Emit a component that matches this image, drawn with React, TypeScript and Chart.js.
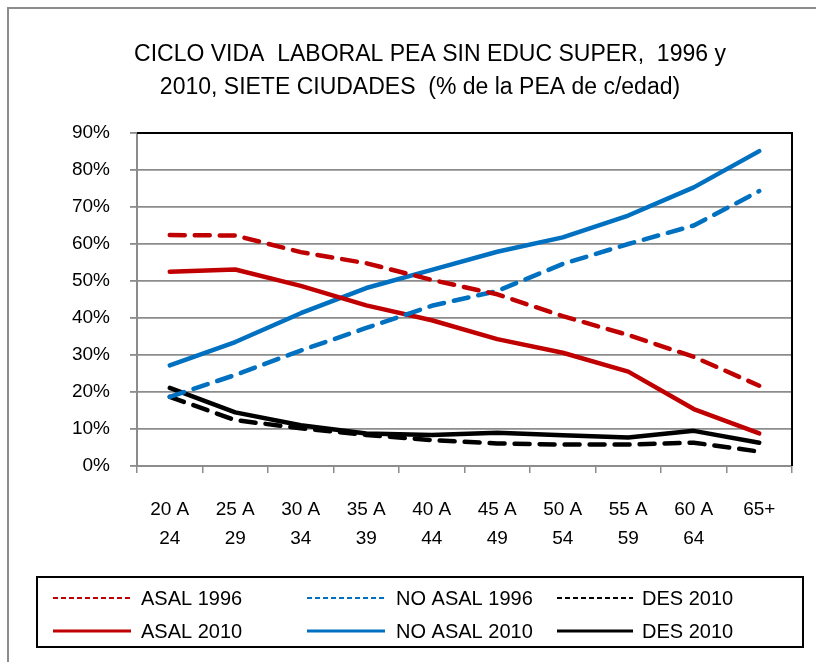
import React, { useEffect, useRef } from "react";
import { Chart, registerables } from "chart.js";

Chart.register(...registerables);

const categories: string[][] = [
  ["20 A", "24"], ["25 A", "29"], ["30 A", "34"], ["35 A", "39"], ["40 A", "44"],
  ["45 A", "49"], ["50 A", "54"], ["55 A", "59"], ["60 A", "64"], ["65+"],
];
const asal1996 = [62.4, 62.3, 57.8, 54.8, 50.3, 46.4, 40.5, 35.4, 29.5, 21.7];
const noAsal1996 = [18.7, 24.6, 31.2, 37.3, 43.3, 47.3, 54.6, 60.0, 65.0, 74.3];
const desDashed = [18.7, 12.4, 10.2, 8.4, 7.0, 6.1, 5.8, 5.8, 6.3, 3.9];
const asal2010 = [52.5, 53.1, 48.7, 43.4, 39.4, 34.3, 30.6, 25.5, 15.4, 8.8];
const noAsal2010 = [27.2, 33.5, 41.3, 48.1, 53.0, 57.9, 61.8, 67.7, 75.3, 85.1];
const desSolid = [21.1, 14.5, 11.0, 8.8, 8.4, 9.0, 8.3, 7.7, 9.5, 6.3];
const seriesLabels = ["ASAL 1996", "NO ASAL 1996", "DES 2010", "ASAL 2010", "NO ASAL 2010", "DES 2010"];
const titleLines = ["CICLO VIDA  LABORAL PEA SIN EDUC SUPER,  1996 y", "2010, SIETE CIUDADES  (% de la PEA de c/edad)"];

const RED = "#C00000";
const BLUE = "#0070C0";
const BLACK = "#000000";
const GRID = "#8c8c8c";
const FONT = "'Liberation Sans', sans-serif";

const decorPlugin = {
  id: "decor",
  afterDraw(chart: any) {
    const ctx = chart.ctx as CanvasRenderingContext2D;
    const area = chart.chartArea;
    ctx.save();
    ctx.strokeStyle = GRID;
    ctx.lineWidth = 2;
    ctx.strokeRect(8, 8, 830, 700);
    ctx.strokeStyle = "#000";
    ctx.lineWidth = 2;
    ctx.beginPath();
    ctx.moveTo(area.left, area.top);
    ctx.lineTo(area.right, area.top);
    ctx.lineTo(area.right, area.bottom);
    ctx.stroke();
    ctx.fillStyle = "#000";
    ctx.font = `23px ${FONT}`;
    ctx.textAlign = "center";
    ctx.textBaseline = "middle";
    ctx.fillText(titleLines[0], 430, 55);
    ctx.fillText(titleLines[1], 420, 88);
    ctx.strokeStyle = "#000";
    ctx.lineWidth = 2;
    ctx.strokeRect(37, 577, 766, 70);
    const ds = chart.data.datasets;
    const cols = [{ x0: 53, x1: 131, tx: 141 }, { x0: 307, x1: 385, tx: 396 }, { x0: 557, x1: 633, tx: 642 }];
    const rows = [598, 631];
    ctx.font = `20px ${FONT}`;
    ctx.textAlign = "left";
    for (let i = 0; i < ds.length; i++) {
      const c = cols[i % 3];
      const y = rows[Math.floor(i / 3)];
      const dashed = i < 3;
      ctx.strokeStyle = ds[i].borderColor;
      ctx.lineWidth = dashed ? 2 : 3;
      ctx.setLineDash(dashed ? [5, 3] : []);
      ctx.beginPath();
      ctx.moveTo(c.x0, y);
      ctx.lineTo(c.x1, y);
      ctx.stroke();
      ctx.setLineDash([]);
      ctx.fillStyle = "#000";
      ctx.fillText(seriesLabels[i], c.tx, y + 1);
    }
    ctx.restore();
  },
};

export default function App() {
  const ref = useRef<HTMLCanvasElement>(null);
  useEffect(() => {
    const dash = [15, 10];
    const mk = (label: string, data: number[], color: string, dashed: boolean) => ({
      label,
      data,
      borderColor: color,
      backgroundColor: color,
      borderWidth: 4.5,
      borderDash: dashed ? dash : [],
      borderCapStyle: "round" as const,
      borderJoinStyle: "round" as const,
      pointRadius: 0,
      tension: 0,
      fill: false,
    });
    const chart = new Chart(ref.current!, {
      type: "line",
      data: {
        labels: categories,
        datasets: [
          mk(seriesLabels[0], asal1996, RED, true),
          mk(seriesLabels[1], noAsal1996, BLUE, true),
          mk(seriesLabels[2], desDashed, BLACK, true),
          mk(seriesLabels[3], asal2010, RED, false),
          mk(seriesLabels[4], noAsal2010, BLUE, false),
          mk(seriesLabels[5], desSolid, BLACK, false),
        ],
      },
      options: {
        animation: false,
        responsive: false,
        layout: { padding: { top: 133, right: 24, bottom: 106, left: 0 } },
        plugins: { legend: { display: false }, title: { display: false }, tooltip: { enabled: false } },
        scales: {
          x: {
            offset: true,
            grid: { offset: true, drawOnChartArea: false, drawTicks: true, tickLength: 7, color: GRID, lineWidth: 1.5 },
            border: { color: GRID, width: 2 },
            ticks: { color: "#000", font: { family: FONT, size: 19, lineHeight: 1.55 }, padding: 22, maxRotation: 0, autoSkip: false },
            afterFit: (s: any) => { s.height = 90; },
          },
          y: {
            min: 0,
            max: 90,
            grid: { color: GRID, lineWidth: 1.8, tickLength: 7 },
            border: { color: GRID, width: 2 },
            ticks: { stepSize: 10, color: "#000", font: { family: FONT, size: 19 }, padding: 20, callback: (v: any) => `${v}%` },
            afterFit: (s: any) => { s.width = 137; },
          },
        },
      },
      plugins: [decorPlugin],
    });
    return () => chart.destroy();
  }, []);
  return (
    <div style={{ position: "fixed", left: 0, top: 0, width: 816, height: 662, background: "#fff" }}>
      <canvas ref={ref} width={816} height={662} style={{ width: 816, height: 662 }} />
    </div>
  );
}
